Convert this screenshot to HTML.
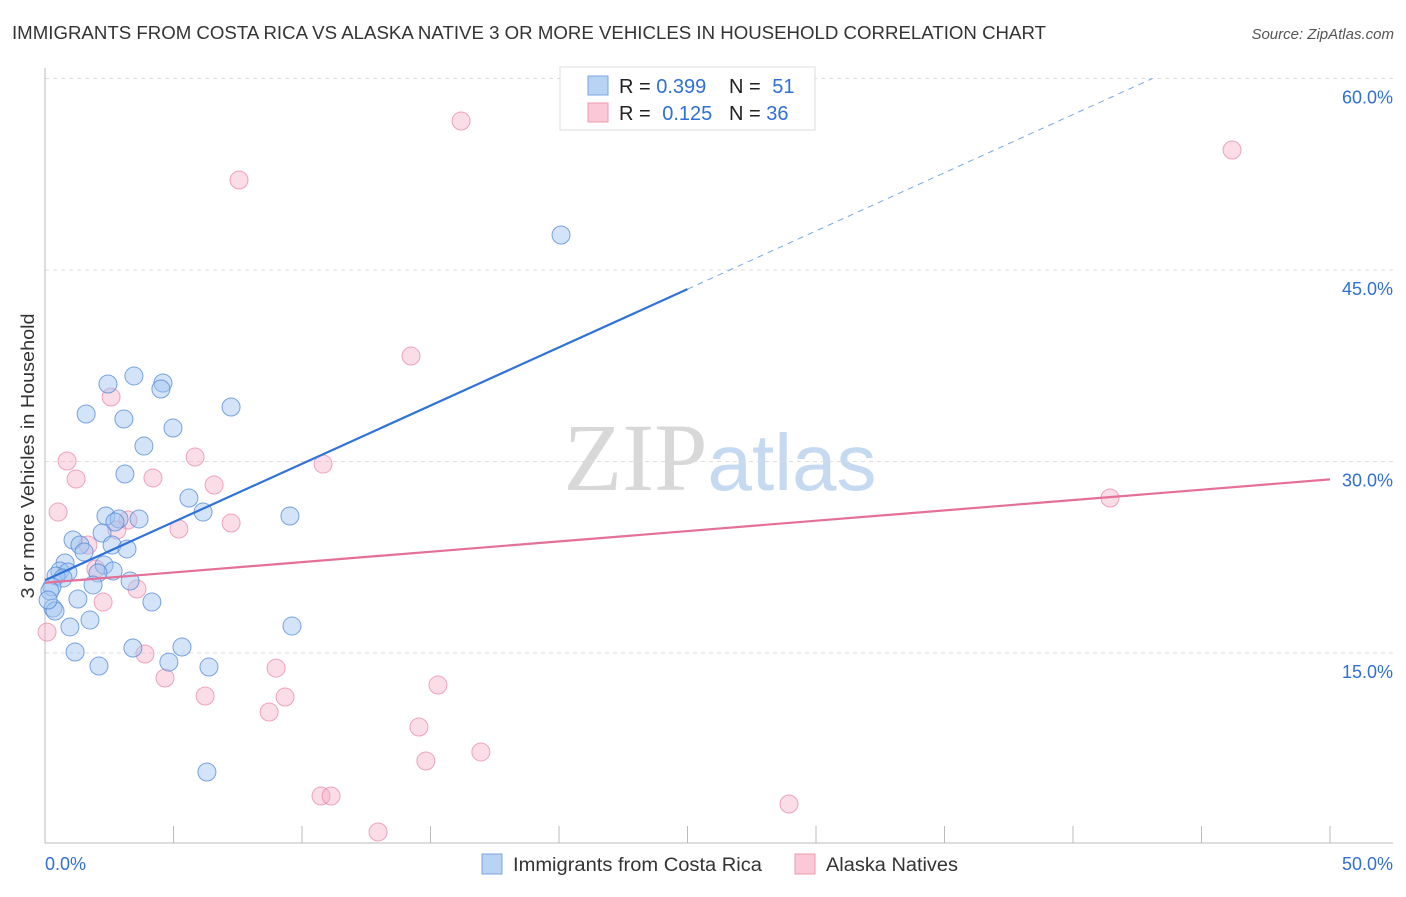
<!DOCTYPE html>
<html><head><meta charset="utf-8"><style>
body{margin:0;background:#fff;font-family:"Liberation Sans",sans-serif}
</style></head><body>
<svg id="chart" width="1406" height="892" xmlns="http://www.w3.org/2000/svg" font-family="Liberation Sans, sans-serif">
<text x="12" y="39" font-size="18" fill="#333" textLength="1034" lengthAdjust="spacingAndGlyphs">IMMIGRANTS FROM COSTA RICA VS ALASKA NATIVE 3 OR MORE VEHICLES IN HOUSEHOLD CORRELATION CHART</text>
<text x="1394" y="39" font-size="15" fill="#555" font-style="italic" text-anchor="end">Source: ZipAtlas.com</text>
<text x="720" y="490" font-size="96" text-anchor="middle"><tspan fill="#d8d8d8" font-family="Liberation Serif, serif">ZIP</tspan><tspan fill="#c5d9f0" font-size="80">atlas</tspan></text>
<g id="grid"></g>
<g id="marks"></g>
<g id="lines"></g>
<text transform="translate(34,456) rotate(-90)" font-size="18" fill="#333" text-anchor="middle" textLength="285" lengthAdjust="spacingAndGlyphs">3 or more Vehicles in Household</text>
<rect x="560" y="67" width="255" height="63" fill="#fff" stroke="#ddd"/>
<rect x="588" y="76" width="20" height="19" fill="#b9d3f5" stroke="#7aa6e0"/>
<rect x="588" y="103" width="20" height="19" fill="#fac8d6" stroke="#ee9ab3"/>
<text x="619" y="93" font-size="20" fill="#222">R = <tspan fill="#2f6fd6">0.399</tspan></text>
<text x="729" y="93" font-size="20" fill="#222">N = <tspan fill="#2f6fd6" dx="6">51</tspan></text>
<text x="619" y="120" font-size="20" fill="#222">R = <tspan fill="#2f6fd6" dx="6">0.125</tspan></text>
<text x="729" y="120" font-size="20" fill="#222">N = <tspan fill="#2f6fd6">36</tspan></text>
<rect x="482" y="854" width="20" height="20" fill="#b9d3f5" stroke="#7aa6e0"/>
<text x="513" y="871" font-size="19" fill="#333" textLength="249" lengthAdjust="spacingAndGlyphs">Immigrants from Costa Rica</text>
<rect x="795" y="854" width="20" height="20" fill="#fac8d6" stroke="#ee9ab3"/>
<text x="826" y="871" font-size="19" fill="#333" textLength="132" lengthAdjust="spacingAndGlyphs">Alaska Natives</text>
</svg>
<script>
const yTicks=[15,30,45,60];
const yTickLabels=["15.0%","30.0%","45.0%","60.0%"];
const xLabels=["0.0%","50.0%"];
const blueX=[20.08,3.46,2.45,4.59,4.51,7.24,1.60,3.07,4.98,3.85,3.11,5.60,6.15,9.53,2.37,3.66,2.88,2.72,2.22,1.09,1.36,2.61,3.19,1.52,0.78,2.30,2.65,0.58,2.06,0.89,0.43,0.70,3.31,1.87,0.27,0.19,1.28,4.16,0.31,0.39,1.75,0.97,9.61,5.33,3.42,1.17,4.82,2.10,6.38,6.30,0.12];
const blueY=[47.74,36.70,36.07,36.15,35.68,34.27,33.72,33.33,32.62,31.21,29.02,27.14,26.04,25.73,25.73,25.50,25.50,25.26,24.40,23.85,23.46,23.46,23.15,22.91,22.05,21.89,21.42,21.42,21.27,21.34,21.03,20.87,20.64,20.33,20.17,19.86,19.23,18.99,18.52,18.29,17.58,17.04,17.11,15.47,15.39,15.08,14.29,13.98,13.90,5.68,19.15];
const pinkX=[16.19,46.19,7.55,14.24,2.57,0.86,5.84,10.82,1.21,4.20,6.58,0.51,41.44,3.23,7.24,5.21,2.80,1.67,1.98,3.58,2.26,0.08,3.89,8.99,4.67,15.29,6.23,9.34,8.72,14.55,16.96,14.82,10.74,11.13,28.95,12.96];
const pinkY=[56.67,54.40,52.05,38.26,35.05,30.04,30.35,29.80,28.63,28.71,28.16,26.04,27.14,25.42,25.18,24.71,24.63,23.46,21.58,20.01,18.99,16.64,14.92,13.82,13.04,12.49,11.63,11.55,10.38,9.20,7.25,6.54,3.80,3.80,3.17,0.98];
const blueFit=[20.7,0.912];   // intercept, slope
const pinkFit=[20.5,0.162];
const NS="http://www.w3.org/2000/svg";
const X0=45,X1=1330,Y0=844.5,Y1=78.5;
const sx=v=>X0+(v/50)*(X1-X0);
const sy=v=>Y0-(v/60)*(Y0-Y1);
function mk(tag,attrs,parent){const e=document.createElementNS(NS,tag);for(const k in attrs)e.setAttribute(k,attrs[k]);parent.appendChild(e);return e;}
const grid=document.getElementById('grid');
yTicks.forEach((t,i)=>{
  const l=mk('line',{x1:X0,x2:1393,y1:sy(t),y2:sy(t),stroke:'#ddd','stroke-dasharray':'4,4'},grid);
  
  
  const tx=mk('text',{x:1393,y:sy(t)+25,'font-size':18,fill:'#2f6fd6','text-anchor':'end'},grid);
  tx.textContent=yTickLabels[i];
  
  
});
const ax=mk('line',{x1:X0,x2:X0,y1:68,y2:843,stroke:'#bbb'},grid);


const bx=mk('line',{x1:X0,x2:1393,y1:843,y2:843,stroke:'#bbb'},grid);


for(let i=0;i<=10;i++){
  const t=mk('line',{x1:sx(i*5),x2:sx(i*5),y1:826,y2:843,stroke:'#bbb'},grid);
  
  
}
[[0,'start',45],[50,'end',1393]].forEach((d,i)=>{
  const t=mk('text',{x:d[2],y:870,'font-size':18,fill:'#2f6fd6','text-anchor':d[1]},grid);
  t.textContent=xLabels[i];
  
  
});
const marks=document.getElementById('marks');
pinkX.forEach((v,i)=>{
  const c=mk('circle',{cx:sx(v),cy:sy(pinkY[i]),r:9,fill:'rgba(246,170,195,0.4)',stroke:'rgba(232,130,165,0.7)','stroke-width':1},marks);
  
  
});
blueX.forEach((v,i)=>{
  const c=mk('circle',{cx:sx(v),cy:sy(blueY[i]),r:9,fill:'rgba(160,195,240,0.45)',stroke:'rgba(80,135,215,0.75)','stroke-width':1},marks);
  
  
});
const lines=document.getElementById('lines');
const b1=mk('line',{x1:sx(0),y1:sy(blueFit[0]),x2:sx(25),y2:sy(blueFit[0]+blueFit[1]*25),stroke:'#2f72d8','stroke-width':2.2},lines);


const xe=(60-blueFit[0])/blueFit[1];
const b2=mk('line',{x1:sx(25),y1:sy(blueFit[0]+blueFit[1]*25),x2:sx(xe),y2:sy(60),stroke:'#7aa6e0','stroke-width':1,'stroke-dasharray':'6,5'},lines);


const p1=mk('line',{x1:sx(0),y1:sy(pinkFit[0]),x2:sx(50),y2:sy(pinkFit[0]+pinkFit[1]*50),stroke:'#e4709a','stroke-width':2.2},lines);


</script>
</body></html>
